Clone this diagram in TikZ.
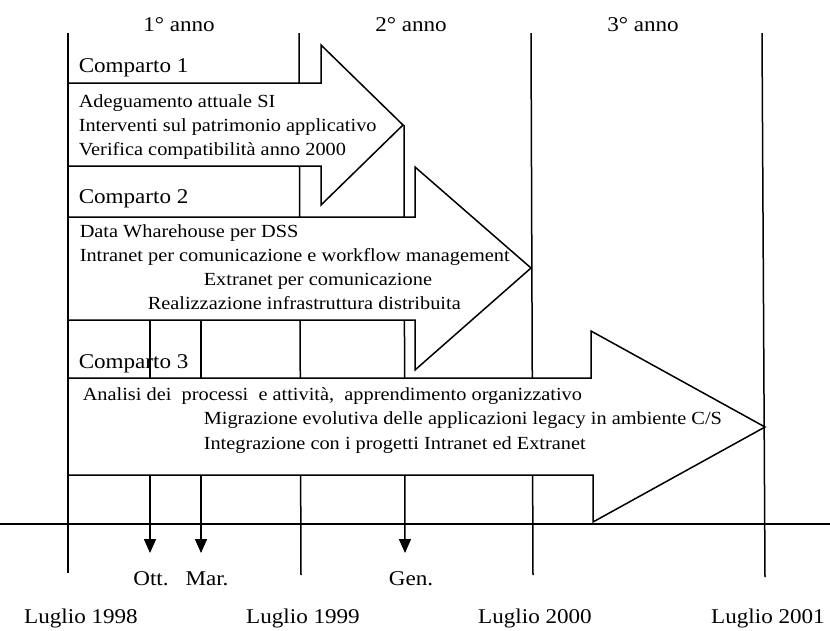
\documentclass[tikz,border=0pt]{standalone}
\usepackage{fontspec}
\setmainfont{Liberation Serif}[FakeStretch=1.1]
\usetikzlibrary{arrows.meta}

\begin{document}
\begin{tikzpicture}[x=1pt, y=-1pt, line width=1.5pt,
    anno/.style={font=\fontsize{21}{24}\selectfont, anchor=base, inner sep=0pt},
    titolo/.style={font=\fontsize{21}{24}\selectfont, anchor=base west, inner sep=0pt},
    voce/.style={font=\fontsize{18.5}{24}\selectfont, anchor=base west, inner sep=0pt},
    fase/.style={draw, fill=white},
    mese/.style={-{Triangle[width=12pt,length=14pt]}}]
    \useasboundingbox (0,0) rectangle (830,630);
    % year lines
    \coordinate (L98t) at (68,33);
    \coordinate (L98b) at (68,573);
    \coordinate (L99t) at (299,33);
    \coordinate (L99b) at (301,575);
    \coordinate (L00t) at (531,33);
    \coordinate (L00b) at (533,575);
    \coordinate (L01t) at (762,33);
    \coordinate (L01b) at (765,577);
    \draw (L98t) -- (L98b);
    \draw (L99t) -- (L99b);
    \draw (L00t) -- (L00b);
    \draw (L01t) -- (L01b);
    % month lines
    \coordinate (OTTt) at (150,320);
    \coordinate (OTTb) at (150,553);
    \coordinate (MARt) at (201,320);
    \coordinate (MARb) at (201,553);
    \coordinate (GENt) at (404,125);
    \coordinate (GENb) at (405,553);
    \draw[mese] (OTTt) -- (OTTb);
    \draw[mese] (MARt) -- (MARb);
    \draw[mese] (GENt) -- (GENb);
    % time axis
    \coordinate (X0) at (0,524);
    \coordinate (X1) at (830,524);
    \draw (X0) -- (X1);
    % comparti
    \draw[fase] (68,83) -- (321,83) -- (321,45) -- (403,125) -- (321,205) -- (321,166) -- (68,166) -- cycle;
    \draw[fase] (68,217) -- (415,217) -- (415,167) -- (531,268) -- (415,370) -- (415,320) -- (68,320) -- cycle;
    \draw[fase] (68,378) -- (591,378) -- (591,331) -- (765,427) -- (593,522) -- (593,475) -- (68,475) -- cycle;
    % labels
    \node[anno] (Y1) at (179,31) {1° anno};
    \node[anno] (Y2) at (411,31) {2° anno};
    \node[anno] (Y3) at (643,31) {3° anno};
    \node[titolo] (C1) at (78,72) {Comparto 1};
    \node[voce] (C1a) at (78,107) {Adeguamento attuale SI};
    \node[voce] (C1b) at (78,131) {Interventi sul patrimonio applicativo};
    \node[voce] (C1c) at (78,155) {Verifica compatibilità anno 2000};
    \node[titolo] (C2) at (78,203) {Comparto 2};
    \node[voce] (C2a) at (79,237) {Data Wharehouse per DSS};
    \node[voce] (C2b) at (79,261) {Intranet per comunicazione e workflow management};
    \node[voce] (C2c) at (203,285) {Extranet per comunicazione};
    \node[voce] (C2d) at (147,309) {Realizzazione infrastruttura distribuita};
    \node[titolo] (C3) at (78,368) {Comparto 3};
    \node[voce] (C3a) at (82,400) {Analisi dei\ \ processi\ \ e attività,\ \ apprendimento organizzativo};
    \node[voce] (C3b) at (203,424) {Migrazione evolutiva delle applicazioni legacy in ambiente C/S};
    \node[voce] (C3c) at (203,449) {Integrazione con i progetti Intranet ed Extranet};
    \node[anno] (OTT) at (151,585) {Ott.};
    \node[anno] (MAR) at (207,585) {Mar.};
    \node[anno] (GEN) at (411,585) {Gen.};
    \node[anno] (L98) at (81,623) {Luglio 1998};
    \node[anno] (L99) at (303,623) {Luglio 1999};
    \node[anno] (L00) at (535,623) {Luglio 2000};
    \node[anno] (L01) at (768,623) {Luglio 2001};
\end{tikzpicture}
\end{document}
